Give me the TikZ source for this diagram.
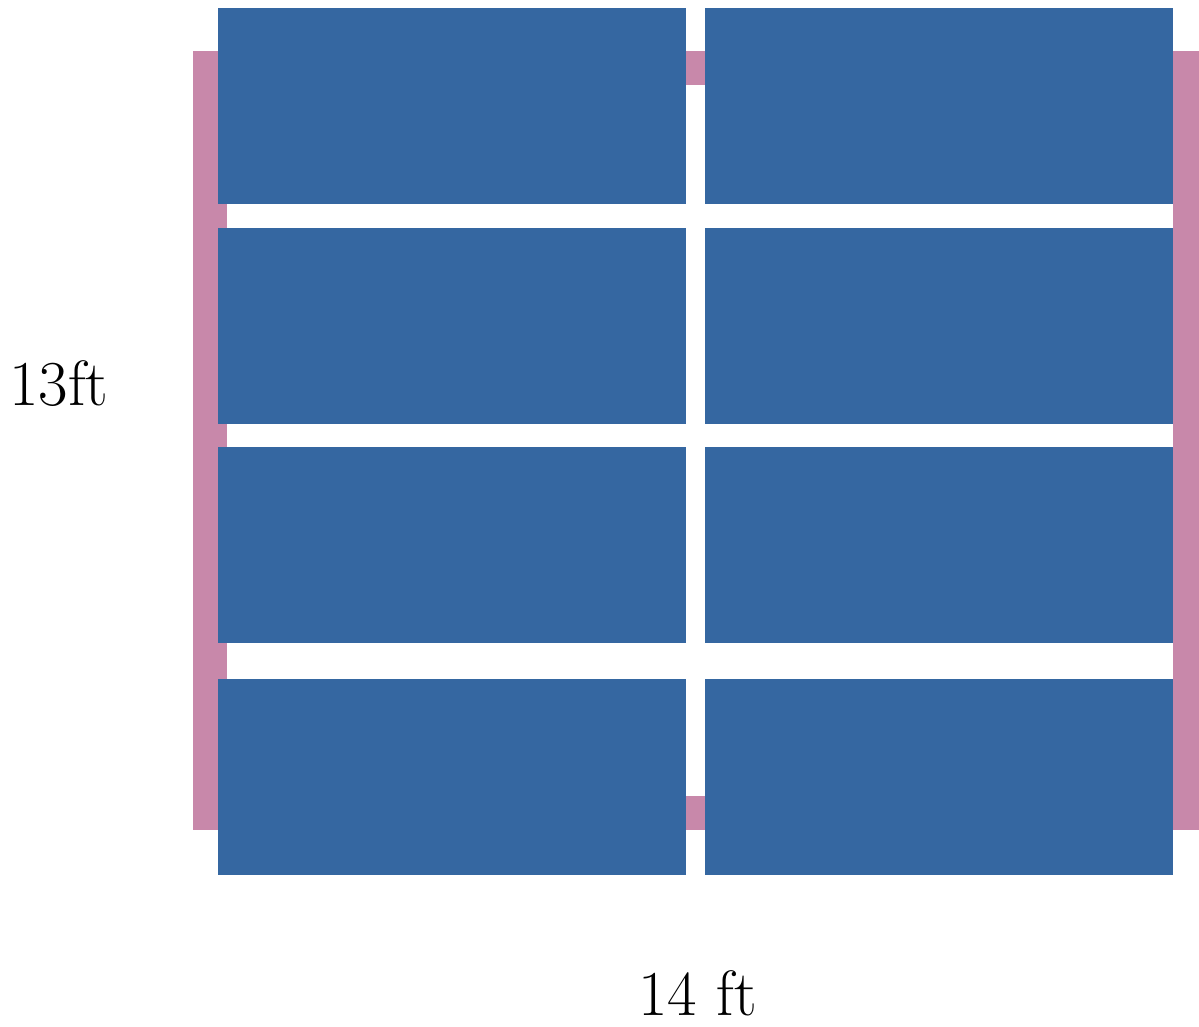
\documentclass[tikz,border=0pt]{standalone}
\definecolor{tileblue}{RGB}{53,103,161}
\definecolor{framepink}{RGB}{200,136,170}
\tikzset{
  tile/.style={fill=tileblue},
  lbl/.style={inner sep=0pt, anchor=base west, font=\fontsize{48}{52}\selectfont}
}
\begin{document}
\begin{tikzpicture}[x=0.75pt,y=-0.75pt]
\useasboundingbox (0,0) rectangle (1199,1027);
\begin{scope}
\clip (0,0) rectangle (1199,1027);
\draw[framepink, line width=25.5pt] (210,68) rectangle (1190,813);
\end{scope}
% tiles
\foreach \ya/\yb in {8/204, 228/424, 447/643, 679/875}{
  \fill[tile] (218,\ya) rectangle (686,\yb);
  \fill[tile] (705,\ya) rectangle (1173,\yb);
}
\node[lbl] (h) at (9,405) {13ft};
\node[lbl] (w) at (638,1015) {14 ft};
\end{tikzpicture}
\end{document}
